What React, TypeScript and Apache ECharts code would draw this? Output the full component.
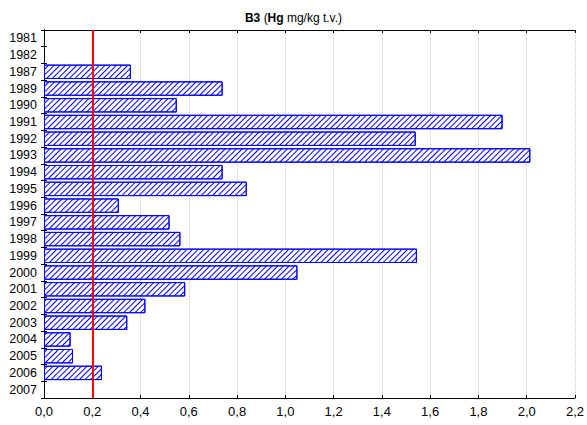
import React, { useEffect, useRef } from "react";
import * as echarts from "echarts";

const years = ["1981", "1982", "1987", "1989", "1990", "1991", "1992", "1993", "1994", "1995", "1996", "1997", "1998", "1999", "2000", "2001", "2002", "2003", "2004", "2005", "2006", "2007"];
const hgValues: (number | null)[] = [null, null, 0.36, 0.74, 0.55, 1.9, 1.54, 2.015, 0.74, 0.84, 0.31, 0.52, 0.565, 1.545, 1.05, 0.585, 0.42, 0.345, 0.11, 0.12, 0.24, null];
const limitValue = 0.2;
const xTicks = { min: 0, max: 2.2, interval: 0.2 };

export default function App() {
  const ref = useRef<HTMLDivElement>(null);
  useEffect(() => {
    if (!ref.current) return;
    const chart = echarts.init(ref.current, null, { renderer: "svg" });
    const font = "'Liberation Sans', Arial, sans-serif";
    const fmt = (v: number) => v.toFixed(1).replace(".", ",");
    chart.setOption({
      animation: false,
      backgroundColor: "#fff",
      textStyle: { fontFamily: font },
      title: {
        left: "center",
        top: 7,
        text: "{b|B3} {n|(}{b|Hg}{n| mg/kg t.v.)}",
        textStyle: {
          fontFamily: font,
          fontSize: 12,
          rich: {
            b: { fontFamily: font, fontWeight: "bold", fontSize: 12, color: "#000" },
            n: { fontFamily: font, fontWeight: "normal", fontSize: 12, color: "#000" },
          },
        },
      },
      grid: { left: 44, right: 9, top: 30, bottom: 27, containLabel: false },
      xAxis: [
        {
          type: "value",
          min: xTicks.min,
          max: xTicks.max,
          interval: xTicks.interval,
          position: "bottom",
          axisLine: { show: true, lineStyle: { color: "#000", width: 1 } },
          axisTick: { show: true, inside: true, length: 3, lineStyle: { color: "#000" } },
          axisLabel: { color: "#000", fontSize: 13, fontFamily: font, margin: 7, formatter: fmt },
          splitLine: { show: true, lineStyle: { color: "#c4c4c4", type: "dotted", width: 1 } },
        },
        {
          type: "value",
          min: xTicks.min,
          max: xTicks.max,
          interval: xTicks.interval,
          position: "top",
          axisLine: { show: true, lineStyle: { color: "#000", width: 1 } },
          axisTick: { show: true, inside: true, length: 3, lineStyle: { color: "#000" } },
          axisLabel: { show: false },
          splitLine: { show: false },
        },
      ],
      yAxis: [
        {
          type: "category",
          data: years,
          inverse: true,
          position: "left",
          axisLine: { show: true, lineStyle: { color: "#000", width: 1 } },
          axisTick: { show: true, inside: true, length: 3, interval: 0, lineStyle: { color: "#000" } },
          axisLabel: { color: "#000", fontSize: 12.5, fontFamily: font, margin: 7, interval: 0 },
          splitLine: { show: false },
        },
        {
          type: "category",
          data: years,
          inverse: true,
          position: "right",
          axisLine: { show: true, lineStyle: { color: "#000", width: 1 } },
          axisTick: { show: true, inside: true, length: 3, interval: 0, lineStyle: { color: "#000" } },
          axisLabel: { show: false },
          splitLine: { show: false },
        },
      ],
      series: [
        {
          type: "bar",
          xAxisIndex: 0,
          yAxisIndex: 0,
          data: hgValues,
          barCategoryGap: "14%",
          itemStyle: {
            color: "#fff",
            borderColor: "#0000ff",
            borderWidth: 1,
            decal: {
              symbol: "rect",
              symbolSize: 1,
              color: "#0000ff",
              dashArrayX: [1, 0],
              dashArrayY: [1, 2.4],
              rotation: -Math.PI / 4,
            },
          },
          markLine: {
            silent: true,
            symbol: ["none", "none"],
            label: { show: false },
            lineStyle: { color: "#ff0000", width: 2, type: "solid" },
            data: [{ xAxis: limitValue }],
          },
        },
      ],
    });
    return () => chart.dispose();
  }, []);
  return <div ref={ref} style={{ width: 587, height: 425, position: "absolute", left: 0, top: 0 }} />;
}
